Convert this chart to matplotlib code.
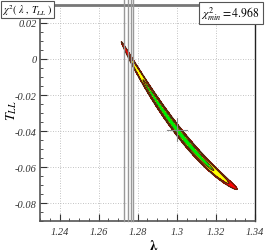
import numpy as np
import matplotlib
matplotlib.use("Agg")
import matplotlib.pyplot as plt
from matplotlib.ticker import MultipleLocator, FixedLocator

plt.rcParams['mathtext.fontset'] = 'stix'

# ---- data ----
chi2_min = 4.968
best_lambda = 1.3001
best_T = -0.0393
sigma_lambda_lo = 0.01147
sigma_lambda_hi = 0.0124
sigma_T_perp = 0.0014
slope = -1.403
curvature = 10.86
delta_levels = [2.30, 4.61, 6.18]
fill_colors = ['#00ee00', '#ffff00', '#ff0000']
ref_lambda_lines = [1.2732, 1.2750, 1.2765, 1.2778]
cross_half = [0.005, 0.0065]
xticks = [1.24, 1.26, 1.28, 1.30, 1.32, 1.34]
xtick_labels = ['1.24', '1.26', '1.28', '1.3', '1.32', '1.34']
yticks = [-0.08, -0.06, -0.04, -0.02, 0.0, 0.02]
ytick_labels = ['-0.08', '-0.06', '-0.04', '-0.02', '0', '0.02']
xlim = (1.23, 1.34)
ylim = (-0.09, 0.03)

fig = plt.figure(figsize=(2.66, 2.53), dpi=100)
ax = fig.add_axes([0.1504, 0.1225, 0.8082, 0.8538])

lam = np.linspace(xlim[0], xlim[1], 1000)
T = np.linspace(ylim[0], ylim[1], 1000)
L, TT = np.meshgrid(lam, T)
u = L - best_lambda
v = TT - (best_T + slope * u + curvature * u**2)
su = np.where(u < 0, sigma_lambda_lo, sigma_lambda_hi)
chi2 = chi2_min + (u / su)**2 + (v / sigma_T_perp)**2

levels = [chi2_min] + [chi2_min + d for d in delta_levels]
ax.contourf(L, TT, chi2, levels=levels, colors=fill_colors, zorder=2)
ax.contour(L, TT, chi2, levels=levels[1:], colors='#4a2a10', linewidths=0.8, zorder=3)

for xl in ref_lambda_lines:
    ax.plot([xl, xl], [ylim[0], ylim[1] + 0.0035], color='#999999', lw=1.0,
            clip_on=False, zorder=4)

ax.plot([best_lambda - cross_half[0], best_lambda + cross_half[0]], [best_T, best_T],
        color='#888888', lw=0.8, zorder=5)
ax.plot([best_lambda, best_lambda], [best_T - cross_half[1], best_T + cross_half[1]],
        color='#888888', lw=0.8, zorder=5)

ax.set_xlim(*xlim)
ax.set_ylim(*ylim)
ax.xaxis.set_major_locator(FixedLocator(xticks))
ax.yaxis.set_major_locator(FixedLocator(yticks))
ax.xaxis.set_minor_locator(MultipleLocator(0.005))
ax.yaxis.set_minor_locator(MultipleLocator(0.005))
ax.set_xticklabels(xtick_labels)
ax.set_yticklabels(ytick_labels)
ax.tick_params(which='both', direction='in', top=False, right=False, colors='#333333')
ax.tick_params(which='major', length=5, width=0.8, labelsize=7.5)
ax.tick_params(axis='x', which='major', pad=4)
ax.tick_params(axis='y', which='major', pad=2.5)
ax.tick_params(which='minor', length=2.5, width=0.6)
for lab in ax.get_xticklabels() + ax.get_yticklabels():
    lab.set_fontfamily('Liberation Serif')
    lab.set_fontstyle('italic')
    lab.set_color('#333333')

ax.grid(True, which='major', linestyle=(0, (1, 2)), color='#b0b0b0', lw=0.6)
ax.set_axisbelow(True)

for s in ['left', 'bottom']:
    ax.spines[s].set_color('#555555')
    ax.spines[s].set_linewidth(1.2)
ax.spines['top'].set_color('#777777')
ax.spines['top'].set_linewidth(2.0)
ax.spines['right'].set_color('#222222')
ax.spines['right'].set_linewidth(1.0)

ax.set_xlabel(r'$\mathbf{\lambda}$', fontsize=10)
ax.xaxis.set_label_coords(0.53, -0.08)
ax.set_ylabel(r'$T_{LL}$', fontsize=10)
ax.yaxis.set_label_coords(-0.10, 0.515)

box = dict(boxstyle='square,pad=0.15', fc='white', ec='#555555', lw=0.8)
fig.text(0.008, 0.988, r'$\chi^2(\ \lambda\ ,\ T_{LL}\ )$', fontsize=7.2, ha='left', va='top',
         bbox=box, zorder=10)
fig.text(0.757, 0.978, r'$\chi^2_{min} = \mathit{4.968}$', fontsize=8.5, ha='left', va='top',
         bbox=dict(boxstyle='square,pad=0.22', fc='white', ec='#555555', lw=0.8), zorder=10)

fig.savefig('out.png', dpi=100)
